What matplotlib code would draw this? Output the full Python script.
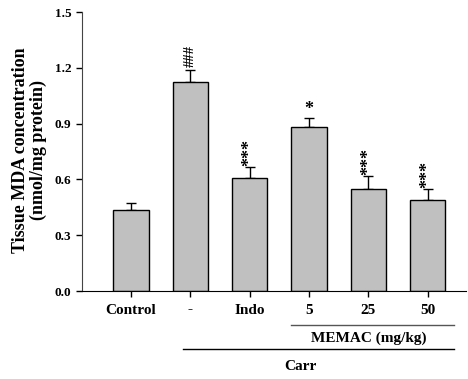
import matplotlib.pyplot as plt
import numpy as np

# values
groups = ['Control', '-', 'Indo', '5', '25', '50']
mda = [0.435, 1.122, 0.607, 0.881, 0.548, 0.490]
sem = [0.040, 0.068, 0.060, 0.048, 0.070, 0.058]
marks = ['', '###', '***', '*', '***', '***']
yticks = [0.0, 0.3, 0.6, 0.9, 1.2, 1.5]

plt.rcParams['font.family'] = ['Liberation Serif', 'DejaVu Serif']
plt.rcParams['font.weight'] = 'bold'

fig = plt.figure(figsize=(4.68, 3.79), dpi=100)
ax = fig.add_axes([0.175, 0.232, 0.821, 0.736])

x = np.arange(len(groups))
ax.bar(x, mda, width=0.6, color='#c0c0c0', edgecolor='black', linewidth=1.0, zorder=2)
ax.errorbar(x, mda, yerr=[np.zeros(len(sem)), sem], fmt='none', ecolor='black',
            elinewidth=1.0, capsize=3.5, capthick=1.0, zorder=1)

for xi, v, e, m in zip(x, mda, sem, marks):
    if not m:
        continue
    if m == '*':
        ax.text(xi, v + e + 0.0, m, ha='center', va='bottom', fontsize=13)
    elif m == '###':
        ax.text(xi, v + e + 0.015, m, ha='center', va='bottom', rotation=90, fontsize=10.5)
    else:
        ax.text(xi, v + e + 0.005, m, ha='center', va='bottom', rotation=90, fontsize=13)

ax.set_xlim(-0.83, 5.65)
ax.set_ylim(0, 1.5)
ax.set_yticks(yticks)
ax.set_yticklabels([f'{t:.1f}' for t in yticks], fontsize=9.5, fontweight='bold')
ax.set_xticks(x)
ax.set_xticklabels(groups, fontsize=11, fontweight='bold')
ax.tick_params(axis='both', direction='out', length=4, width=1)
ax.tick_params(axis='x', pad=5)
ax.spines['top'].set_visible(False)
ax.spines['right'].set_visible(False)
ax.spines['left'].set_color('#444444')
ax.set_ylabel('Tissue MDA concentration\n(nmol/mg protein)', fontsize=13,
              fontweight='bold', linespacing=1.05)
ax.yaxis.set_label_coords(-0.09, 0.505)

# group brackets under the axis
ax.plot([2.7, 5.45], [-0.183, -0.183], color='#555555', lw=1, clip_on=False)
ax.text(4.0, -0.253, 'MEMAC (mg/kg)', ha='center', va='center', fontsize=11, fontweight='bold')
ax.plot([0.88, 5.45], [-0.312, -0.312], color='black', lw=1, clip_on=False)
ax.text(2.85, -0.403, 'Carr', ha='center', va='center', fontsize=11, fontweight='bold')

fig.savefig('out.png', dpi=100)
